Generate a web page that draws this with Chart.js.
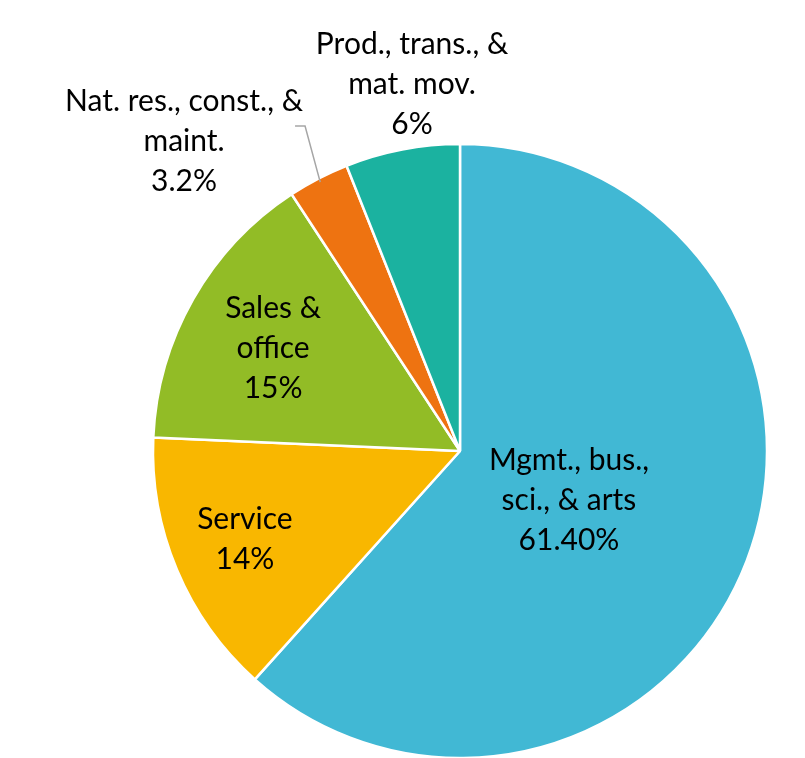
<!DOCTYPE html>
<html>
<head>
<meta charset="utf-8">
<script src="https://cdn.jsdelivr.net/npm/chart.js@4.4.1/dist/chart.umd.min.js"></script>
<style>
  html, body { margin: 0; padding: 0; background: #ffffff; }
  #wrap { width: 805px; height: 758px; }
</style>
</head>
<body>
<div id="wrap"><canvas id="c" width="805" height="758"></canvas></div>
<script>
// ---- data ----
const categories = [
  "Mgmt., bus., sci., & arts",
  "Service",
  "Sales & office",
  "Nat. res., const., & maint.",
  "Prod., trans., & mat. mov."
];
const labelLines = [
  ["Mgmt., bus.,", "sci., & arts"],
  ["Service"],
  ["Sales &", "office"],
  ["Nat. res., const., &", "maint."],
  ["Prod., trans., &", "mat. mov."]
];
const values = [61.4, 14, 15, 3.2, 6];
const valueLabels = ["61.40%", "14%", "15%", "3.2%", "6%"];
const colors = ["#41B8D4", "#F9B700", "#92BC26", "#EE7311", "#1BB2A0"];

// ---- label placement (relative to each arc: fraction of radius, angle shift in degrees) ----
const placement = [
  { frac: 0.389, dAng: 3.2 },
  { frac: 0.757, dAng: 0.5 },
  { frac: 0.695, dAng: -0.8 },
  { frac: 1.352, dAng: -14.2, leader: true },
  { frac: 1.2056, dAng: 3.4 }
];

const FONT = '30px Lato, "Open Sans", sans-serif';
const LINE_H = 40;

const labelPlugin = {
  id: 'sliceLabels',
  afterDatasetsDraw(chart) {
    const ctx = chart.ctx;
    const meta = chart.getDatasetMeta(0);
    ctx.save();
    ctx.font = FONT;
    ctx.fillStyle = '#000000';
    ctx.textAlign = 'center';
    ctx.textBaseline = 'middle';
    meta.data.forEach((arc, i) => {
      const p = arc.getProps(['x', 'y', 'startAngle', 'endAngle', 'outerRadius'], true);
      const mid = (p.startAngle + p.endAngle) / 2;
      const pl = placement[i];
      const ang = mid + pl.dAng * Math.PI / 180;
      const r = p.outerRadius * pl.frac;
      const lx = p.x + Math.cos(ang) * r;
      const ly = p.y + Math.sin(ang) * r;
      const lines = labelLines[i].concat([valueLabels[i]]);
      const top = ly - (lines.length - 1) * LINE_H / 2;
      lines.forEach((t, k) => ctx.fillText(t, lx, top + k * LINE_H));
      if (pl.leader) {
        const ex = p.x + Math.cos(mid) * (p.outerRadius - 4);
        const ey = p.y + Math.sin(mid) * (p.outerRadius - 4);
        ctx.strokeStyle = '#A6A6A6';
        ctx.lineWidth = 1.5;
        ctx.beginPath();
        ctx.moveTo(ex, ey);
        ctx.lineTo(lx + 121, ly - 15);
        ctx.lineTo(lx + 111, ly - 15);
        ctx.stroke();
      }
    });
    ctx.restore();
  }
};

new Chart(document.getElementById('c'), {
  type: 'pie',
  data: {
    labels: categories,
    datasets: [{
      data: values,
      backgroundColor: colors,
      borderColor: '#ffffff',
      borderWidth: 2.5
    }]
  },
  options: {
    responsive: false,
    animation: false,
    radius: 307,
    layout: { padding: { left: 115, right: 0, top: 144, bottom: 0 } },
    plugins: {
      legend: { display: false },
      tooltip: { enabled: false }
    }
  },
  plugins: [labelPlugin]
});
</script>
</body>
</html>
